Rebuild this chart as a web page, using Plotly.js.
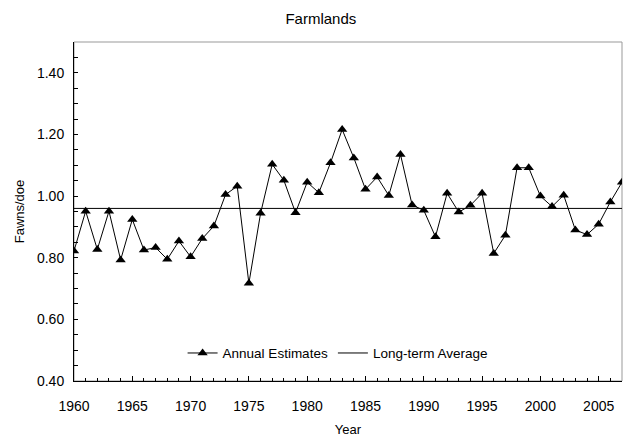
<!DOCTYPE html>
<html>
<head>
<meta charset="utf-8">
<script src="https://cdn.plot.ly/plotly-3.0.1.min.js"></script>
<style>html,body{margin:0;padding:0;background:#fff;}#chart{width:623px;height:442px;}</style>
</head>
<body>
<div id="chart"></div>
<script>
var years = [1960,1961,1962,1963,1964,1965,1966,1967,1968,1969,1970,1971,1972,1973,1974,1975,1976,1977,1978,1979,1980,1981,1982,1983,1984,1985,1986,1987,1988,1989,1990,1991,1992,1993,1994,1995,1996,1997,1998,1999,2000,2001,2002,2003,2004,2005,2006,2007];
var annualEstimates = [0.822,0.951,0.827,0.951,0.793,0.924,0.825,0.833,0.795,0.854,0.803,0.862,0.903,1.005,1.032,0.717,0.944,1.103,1.051,0.946,1.045,1.011,1.108,1.216,1.124,1.022,1.062,1.002,1.135,0.971,0.954,0.868,1.009,0.948,0.970,1.009,0.814,0.873,1.092,1.092,1.000,0.966,1.003,0.890,0.875,0.909,0.981,1.045];
var longTermAverage = 0.96;
var avgYears = [1960, 2007];

var traces = [
  {x: years, y: annualEstimates, name: 'Annual Estimates', type: 'scatter', mode: 'lines+markers',
   line: {color: '#000', width: 1}, marker: {symbol: 'triangle-up', size: 9, color: '#000'}},
  {x: avgYears, y: avgYears.map(function(){return longTermAverage;}), name: 'Long-term Average', type: 'scatter', mode: 'lines',
   line: {color: '#000', width: 1}}
];

var layout = {
  width: 623, height: 442,
  margin: {l: 74, r: 1, t: 42, b: 61},
  paper_bgcolor: '#fff', plot_bgcolor: '#fff',
  font: {family: 'Liberation Sans, Arial, sans-serif', size: 13, color: '#000'},
  title: {text: 'Farmlands', font: {size: 15}, xref: 'container', x: 0.515, xanchor: 'center', yref: 'container', y: 0.957, yanchor: 'middle'},
  xaxis: {range: [1960, 2007], dtick: 5, tick0: 1960, ticks: 'inside', ticklen: 5, tickcolor: '#000',
    tickfont: {size: 14}, ticklabelstandoff: 12,
    showline: true, linecolor: '#000', linewidth: 1, showgrid: false, zeroline: false,
    minor: {dtick: 1, ticks: 'inside', ticklen: 3, tickcolor: '#000', showgrid: false},
    title: {text: 'Year', font: {size: 13}, standoff: 12}},
  yaxis: {range: [0.40, 1.50], dtick: 0.2, tick0: 0.4, tickformat: '.2f', ticks: 'inside', ticklen: 4, tickcolor: '#000',
    tickfont: {size: 14}, ticklabelstandoff: 6,
    showline: true, linecolor: '#000', linewidth: 1, showgrid: false, zeroline: false,
    minor: {dtick: 0.05, ticks: 'inside', ticklen: 4, tickcolor: '#000', showgrid: false},
    title: {text: 'Fawns/doe', font: {size: 13}, standoff: 9}},
  shapes: [{type: 'rect', xref: 'paper', yref: 'paper', x0: 0, x1: 1, y0: 0, y1: 1,
    line: {color: '#999', width: 1}, layer: 'below'}],
  legend: {orientation: 'h', x: 0.481, xanchor: 'center', y: 0.082, yanchor: 'middle',
    bgcolor: 'rgba(0,0,0,0)', font: {size: 13.5}, itemwidth: 30, traceorder: 'normal'},
  showlegend: true
};

Plotly.newPlot('chart', traces, layout, {displayModeBar: false, staticPlot: true});
</script>
</body>
</html>
